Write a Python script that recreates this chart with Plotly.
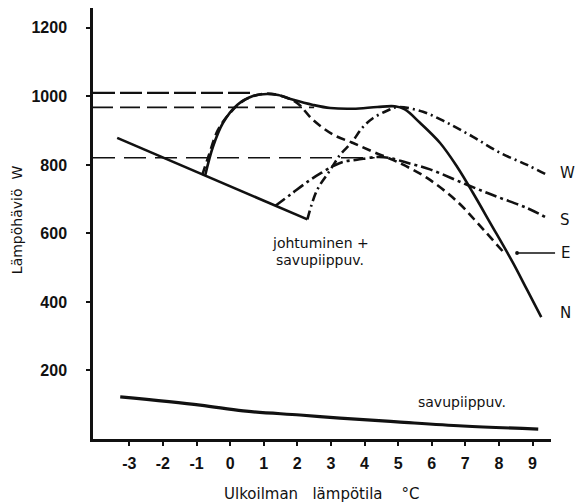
import plotly.graph_objects as go

# --- data ---
x_cond = [-3.36, 2.30]
y_cond = [879, 641]

x_N = [-0.74, -0.51, -0.21, 0.21, 0.68, 1.10, 1.43, 1.88, 2.47, 2.98, 3.66, 4.38, 4.90, 5.20, 5.65, 6.25, 6.76, 7.23, 7.74, 8.42, 8.84, 9.26]
y_N = [770, 853, 923, 975, 1001, 1007, 1004, 990, 975, 966, 964, 969, 971, 962, 923, 864, 794, 718, 631, 514, 435, 356]

x_E = [-0.83, -0.65, -0.36, 0.0, 0.39, 0.80, 1.10, 1.50, 1.99, 2.47, 3.07, 3.66, 4.26, 4.97, 5.86, 6.76, 7.44, 8.13]
y_E = [770, 823, 902, 952, 987, 1004, 1008, 1002, 981, 931, 888, 864, 838, 809, 762, 693, 622, 546]

x_W = [2.30, 2.59, 2.98, 3.27, 3.63, 3.93, 4.26, 4.67, 4.97, 5.74, 6.46, 7.23, 8.04, 8.84, 9.43]
y_W = [641, 727, 785, 829, 867, 908, 937, 958, 969, 955, 923, 882, 835, 800, 771]

x_S = [1.34, 1.79, 2.38, 2.77, 3.07, 3.36, 3.78, 4.38, 4.76, 5.27, 5.95, 7.05, 7.95, 8.84, 9.43]
y_S = [680, 713, 756, 780, 797, 809, 815, 823, 820, 806, 787, 742, 707, 674, 645]

x_savu = [-3.27, -0.89, 0.39, 2.08, 3.27, 4.97, 6.93, 9.17]
y_savu = [123, 99, 82, 70, 61, 50, 38, 29]

# reference (horizontal) levels: value and x-extent
ref_levels = [1010, 968, 821]
ref_x_start = [-4.08, -4.08, -4.08]
ref_x_end = [0.70, 2.50, 4.30]

x_ticks = [-3, -2, -1, 0, 1, 2, 3, 4, 5, 6, 7, 8, 9]
y_ticks = [200, 400, 600, 800, 1000, 1200]

labels = ["W", "S", "E", "N"]
label_y = [777, 639, 540, 368]

x_range = [-4.08, 9.55]
y_range = [0, 1258]

BLACK = "#111111"
fig = go.Figure()

ref_dash = ["22px,5px", "20px,7px", "22px,9px"]
ref_w = [2.2, 1.8, 1.6]
for lvl, xs, xe, d, w in zip(ref_levels, ref_x_start, ref_x_end, ref_dash, ref_w):
    fig.add_trace(go.Scatter(x=[xs, xe], y=[lvl, lvl], mode="lines",
                             line=dict(color=BLACK, width=w, dash=d),
                             hoverinfo="skip", cliponaxis=False))

fig.add_trace(go.Scatter(x=x_cond, y=y_cond, mode="lines", line=dict(color=BLACK, width=2.6)))
fig.add_trace(go.Scatter(x=x_N, y=y_N, mode="lines", line=dict(color=BLACK, width=2.6, shape="spline")))
fig.add_trace(go.Scatter(x=x_E, y=y_E, mode="lines", line=dict(color=BLACK, width=2.6, shape="spline", dash="9px,5px")))
fig.add_trace(go.Scatter(x=x_W, y=y_W, mode="lines", line=dict(color=BLACK, width=2.6, shape="spline", dash="9px,4px,2px,4px")))
fig.add_trace(go.Scatter(x=x_S, y=y_S, mode="lines", line=dict(color=BLACK, width=2.6, shape="spline", dash="12px,4px,3px,4px")))
fig.add_trace(go.Scatter(x=x_savu, y=y_savu, mode="lines", line=dict(color=BLACK, width=3.2, shape="spline")))

txt_font = dict(family="DejaVu Sans", size=14, color=BLACK)
ann = [
    dict(x=2.68, y=572, xref="x", yref="y", text="johtuminen +", showarrow=False, font=txt_font),
    dict(x=2.68, y=523, xref="x", yref="y", text="savupiippuv.", showarrow=False, font=txt_font),
    dict(x=6.9, y=108, xref="x", yref="y", text="savupiippuv.", showarrow=False, font=txt_font),
]
lab_font = dict(family="DejaVu Sans", size=15, color=BLACK)
for lab, ly in zip(labels, label_y):
    if lab == "E":
        ann.append(dict(x=x_E[-1] + 0.41, y=ly + 3, xref="x", yref="y", text=lab,
                        showarrow=True, arrowhead=6, arrowsize=0.6, arrowwidth=1.6,
                        arrowcolor=BLACK, ax=42, ay=0, xanchor="left",
                        startstandoff=4, font=lab_font))
    else:
        ann.append(dict(x=1.016, y=ly, xref="paper", yref="y", text=lab, showarrow=False,
                        xanchor="left", font=lab_font))

ann.append(dict(x=-0.166, y=0.51, xref="paper", yref="paper", text="Lämpöhäviö  W",
                textangle=-90, showarrow=False, xanchor="center", yanchor="middle",
                font=dict(family="DejaVu Sans", size=14, color=BLACK)))
ann.append(dict(x=0.5, y=-0.128, xref="paper", yref="paper",
                text="Ulkoilman\u00a0\u00a0 lämpötila\u00a0\u00a0\u00a0 °C",
                showarrow=False, xanchor="center", yanchor="middle",
                font=dict(family="DejaVu Sans", size=15, color=BLACK)))

tick_font = dict(family="Liberation Sans", size=16, color=BLACK, weight="bold")
fig.update_layout(
    width=576, height=504,
    margin=dict(l=93, r=25, t=8, b=65),
    paper_bgcolor="white", plot_bgcolor="white",
    showlegend=False,
    annotations=ann,
    xaxis=dict(range=x_range, tickvals=x_ticks, ticktext=[str(v) for v in x_ticks],
               showgrid=False, zeroline=False, showline=True, linecolor=BLACK, linewidth=2.5,
               ticks="outside", ticklen=4, tickwidth=1.5, tickcolor=BLACK,
               tickfont=tick_font, ticklabelstandoff=4),
    yaxis=dict(range=y_range, tickvals=y_ticks, ticktext=[str(v) for v in y_ticks],
               showgrid=False, zeroline=False, showline=True, linecolor=BLACK, linewidth=2.5,
               ticks="outside", ticklen=4, tickwidth=1.5, tickcolor=BLACK,
               tickfont=tick_font, ticklabelstandoff=16),
)

fig.write_html("out.html")
